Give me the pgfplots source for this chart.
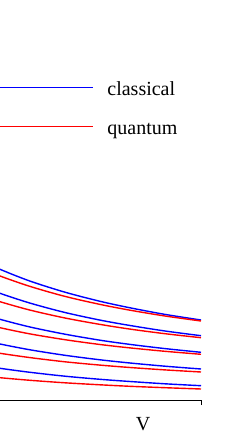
\documentclass[border=0pt]{standalone}
\usepackage{fontspec}
\setmainfont{Liberation Serif}
\usepackage{pgfplots}
\pgfplotsset{compat=1.18}
\begin{document}
\begin{tikzpicture}
\useasboundingbox (0,0) rectangle (123pt,222.5pt);
\clip (0,0) rectangle (123pt,222.5pt);
\begin{axis}[
  at={(-20pt,22.5pt)}, anchor=south west,
  x=0.5pt, y=0.5pt,
  xmin=-40, xmax=201, ymin=45, ymax=445,
  enlargelimits=false,
  axis x line=bottom, axis y line=none,
  x axis line style={-, line width=0.5pt},
  xtick={201}, xticklabels={},
  tick align=outside, major tick length=2.5pt,
  every tick/.style={black, line width=0.5pt},
  clip=false,
  font=\fontsize{10}{12}\selectfont,
]
% classical (blue) and quantum (red) isotherms
\addplot[draw=blue, line width=0.7pt, smooth, forget plot] coordinates {(-20,185.0) (0,175.7) (30,163.9) (65,152.8) (100,143.7) (130,137.2) (165,130.6) (201,125.0)};
\addplot[draw=red, line width=0.7pt, smooth, forget plot] coordinates {(-20,177.3) (0,169.0) (30,158.6) (65,148.6) (100,140.6) (130,134.8) (165,129.0) (201,124.0)};
\addplot[draw=blue, line width=0.7pt, smooth, forget plot] coordinates {(-20,159.5) (0,151.7) (30,141.9) (65,132.5) (100,124.9) (130,119.5) (165,114.0) (201,109.3)};
\addplot[draw=blue, line width=0.7pt, smooth, forget plot] coordinates {(-20,131.8) (0,125.7) (30,118.0) (65,110.8) (100,104.8) (130,100.6) (165,96.4) (201,92.7)};
\addplot[draw=blue, line width=0.7pt, smooth, forget plot] coordinates {(-20,105.6) (0,101.0) (30,95.2) (65,89.7) (100,85.2) (130,82.0) (165,78.8) (201,76.0)};
\addplot[draw=blue, line width=0.7pt, smooth, forget plot] coordinates {(-20,79.9) (0,76.7) (30,72.7) (65,68.8) (100,65.7) (130,63.5) (165,61.2) (201,59.3)};
\addplot[draw=red, line width=0.7pt, smooth, forget plot] coordinates {(-20,149.9) (0,143.3) (30,134.9) (65,127.0) (100,120.6) (130,115.9) (165,111.3) (201,107.3)};
\addplot[draw=red, line width=0.7pt, smooth, forget plot] coordinates {(-20,122.2) (0,117.3) (30,111.1) (65,105.3) (100,100.5) (130,97.1) (165,93.7) (201,90.7)};
\addplot[draw=red, line width=0.7pt, smooth, forget plot] coordinates {(-20,95.1) (0,91.7) (30,87.4) (65,83.2) (100,79.9) (130,77.5) (165,75.1) (201,73.0)};
\addplot[draw=red, line width=0.7pt, smooth, forget plot] coordinates {(-20,69.4) (0,67.3) (30,64.7) (65,62.2) (100,60.2) (130,58.7) (165,57.3) (201,56.0)};
% legend samples
\addplot[draw=blue, line width=0.7pt, forget plot] coordinates {(-40,357.3) (93,357.3)};
\addplot[draw=red, line width=0.7pt, forget plot] coordinates {(-40,318.3) (93,318.3)};
\node[anchor=base west, inner sep=0pt] at (axis cs:107,349) {classical};
\node[anchor=base west, inner sep=0pt] at (axis cs:107,310) {quantum};
\node[anchor=base, inner sep=0pt] at (axis cs:143,14) {V};
\end{axis}
\end{tikzpicture}
\end{document}
